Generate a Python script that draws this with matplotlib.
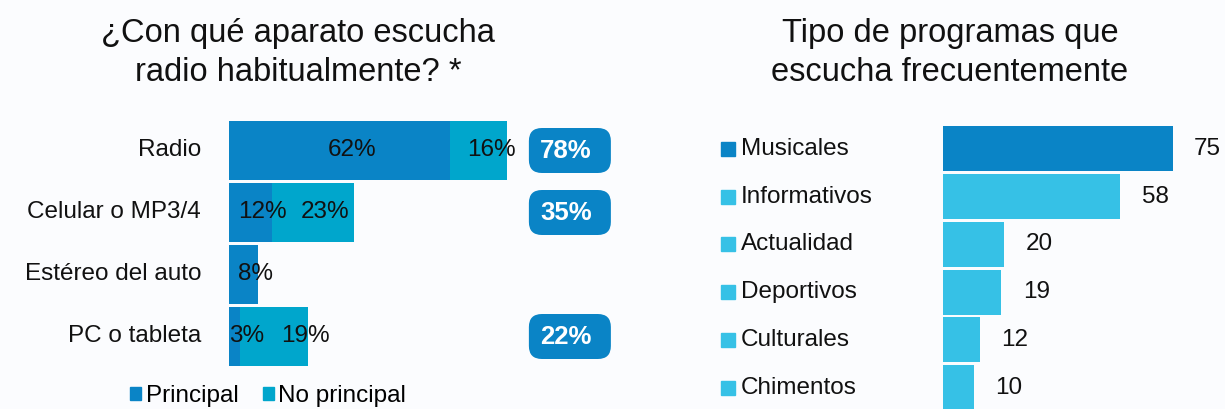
import matplotlib.pyplot as plt
import numpy as np
from matplotlib.patches import FancyBboxPatch, Patch
from matplotlib.transforms import IdentityTransform, blended_transform_factory

plt.rcParams['font.family'] = ['Liberation Sans', 'DejaVu Sans']

# device used to listen to the radio (% of respondents)
devices = ['Radio', 'Celular o MP3/4', 'Estéreo del auto', 'PC o tableta']
principal = [62, 12, 8, 3]
no_principal = [16, 23, 0, 19]

# type of programmes listened to frequently
programs = ['Musicales', 'Informativos', 'Actualidad', 'Deportivos', 'Culturales', 'Chimentos']
program_vals = [75, 58, 20, 19, 12, 10]

dark = '#0a84c6'
mid = '#00a6cc'
light = '#36c1e6'
bg = '#fbfcfe'
ink = '#111111'
fs = 17.5

W, H = 1225, 409
fig = plt.figure(figsize=(W / 100, H / 100), dpi=100, facecolor=bg)

def px_axes(x0, y_top, w, h):
    return fig.add_axes([x0 / W, 1 - (y_top + h) / H, w / W, h / H])

# ---- left chart ----
ax1 = px_axes(229, 119.5, 110 * 3.57, 248)
ax1.set_axis_off()
y1 = np.arange(len(devices))
ax1.barh(y1, principal, height=0.95, color=dark)
ax1.barh(y1, no_principal, left=principal, height=0.95, color=mid)
ax1.set_xlim(0, 110)
ax1.set_ylim(len(devices) - 0.5, -0.5)

for i, name in enumerate(devices):
    ax1.annotate(name, (0, i), xytext=(-20, 0), textcoords='offset points',
                 ha='right', va='center', fontsize=fs, color=ink)
    # segment labels, shifted a bit right of each segment centre
    ax1.annotate(f'{principal[i]}%', (principal[i] / 2, i), xytext=(9, 0),
                 textcoords='offset points', ha='center', va='center',
                 fontsize=fs, color=ink)
    if no_principal[i]:
        nudge = 23 if principal[i] < 5 else 9
        ax1.annotate(f'{no_principal[i]}%', (principal[i] + no_principal[i] / 2, i),
                     xytext=(nudge, 0), textcoords='offset points', ha='center',
                     va='center', fontsize=fs, color=ink)

# total badges
fig.canvas.draw()
for i in range(len(devices)):
    if not no_principal[i]:
        continue
    total = principal[i] + no_principal[i]
    x0, yc = ax1.transData.transform((84, i))
    bw, bh = 82, 45
    badge = FancyBboxPatch((x0, yc - bh / 2), bw, bh,
                           boxstyle='round,pad=0,rounding_size=13',
                           transform=IdentityTransform(), facecolor=dark,
                           edgecolor='none')
    fig.add_artist(badge)
    fig.text((x0 + bw / 2 - 4) / W, yc / H, f'{total}%', ha='center', va='center',
             fontsize=18.5, fontweight='bold', color='white')

fig.legend(handles=[Patch(color=dark), Patch(color=mid)],
           labels=['Principal', 'No principal'], loc='center',
           bbox_to_anchor=(268 / W, 1 - 396 / H), ncol=2, frameon=False,
           fontsize=fs, handlelength=0.45, handleheight=0.45,
           handletextpad=0.2, columnspacing=1.0, borderpad=0)

fig.text(298 / W, 1 - 53 / H, '¿Con qué aparato escucha\nradio habitualmente? *',
         ha='center', va='center', fontsize=23.5, linespacing=1.3, color=ink)

# ---- right chart ----
ax2 = px_axes(943, 125, 80 * 3.06, 47.75 * len(programs))
ax2.set_axis_off()
y2 = np.arange(len(programs))
colors = [dark] + [light] * (len(programs) - 1)
ax2.barh(y2, program_vals, height=0.94, color=colors)
ax2.set_xlim(0, 80)
ax2.set_ylim(len(programs) - 0.5, -0.5)

sq = blended_transform_factory(ax2.transAxes, ax2.transData)
for i, name in enumerate(programs):
    ax2.plot([-215.5 / ax2.bbox.width], [i], marker='s', markersize=10.5,
             color=colors[i], transform=sq, clip_on=False)
    ax2.annotate(name, (0, i), xytext=(-145.5, 0), textcoords='offset points',
                 ha='left', va='center', fontsize=fs, color=ink)
    ax2.annotate(str(program_vals[i]), (program_vals[i], i), xytext=(15.5, 0),
                 textcoords='offset points', ha='left', va='center',
                 fontsize=fs, color=ink)

fig.text(950 / W, 1 - 53 / H, 'Tipo de programas que\nescucha frecuentemente',
         ha='center', va='center', fontsize=23.5, linespacing=1.3, color=ink)

fig.savefig('out.png', dpi=100, facecolor=bg)
